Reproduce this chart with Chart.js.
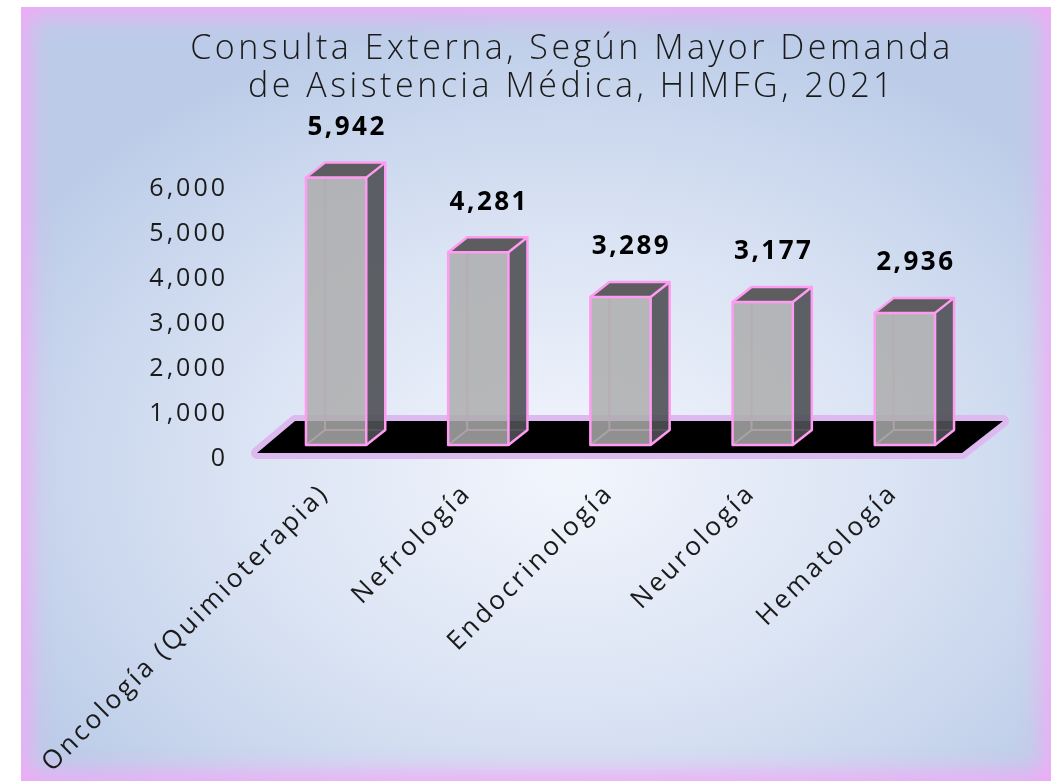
<!DOCTYPE html>
<html lang="es">
<head>
  <meta charset="UTF-8" />
  <title>Consulta Externa HIMFG 2021</title>
  <script src="https://cdn.jsdelivr.net/npm/chart.js"></script>
  <style>
    html, body {
      margin: 0;
      padding: 0;
      background: #ffffff;
      overflow: hidden;
    }
    .panel {
      position: absolute;
      left: 21px;
      top: 7px;
      width: 1030px;
      height: 774px;
      background: radial-gradient(ellipse 62% 60% at 53% 60%, #f2f5fc 0%, #dbe4f4 50%, #bccce8 100%);
      box-shadow: inset 0 0 24px 7px #f4a8f8;
    }
    canvas { display: block; }
  </style>
</head>
<body>

  <div class="panel">
    <canvas id="chart" width="1030" height="774"></canvas>
  </div>

  <script>
    const titleLines = ['Consulta Externa, Según Mayor Demanda', 'de Asistencia Médica, HIMFG, 2021'];
    const categories = ['Oncología (Quimioterapia)', 'Nefrología', 'Endocrinología', 'Neurología', 'Hematología'];
    const consultas = [5942, 4281, 3289, 3177, 2936];
    const yTicks = [0, 1000, 2000, 3000, 4000, 5000, 6000];

    const FONT = "'Open Sans', sans-serif";
    const DEPTH_X = 19, DEPTH_Y = -15;
    const PINK = '#ff9cf2';

    // letter spacing for all the canvas text (the original font is wide)
    const spacing = {
      id: 'spacing',
      beforeLayout(chart) { chart.ctx.letterSpacing = '3px'; },
      beforeDraw(chart) { chart.ctx.letterSpacing = '3px'; }
    };

    const title = {
      id: 'customTitle',
      afterDraw(chart) {
        const ctx = chart.ctx;
        ctx.save();
        ctx.letterSpacing = '3.5px';
        ctx.font = `300 34px ${FONT}`;
        ctx.fillStyle = '#1a1a1a';
        ctx.textAlign = 'center';
        ctx.textBaseline = 'middle';
        titleLines.forEach((t, i) => ctx.fillText(t, 551, 42 + i * 38));
        ctx.restore();
      }
    };

    // black floor under the bars
    const floor = {
      id: 'floor',
      beforeDatasetsDraw(chart) {
        const { ctx, chartArea: a } = chart;
        const b = a.bottom;
        ctx.save();
        ctx.beginPath();
        ctx.moveTo(a.left - 8, b + 8);
        ctx.lineTo(a.right - 14, b + 8);
        ctx.lineTo(a.right + 27, b - 24);
        ctx.lineTo(a.left + 30, b - 24);
        ctx.closePath();
        ctx.lineJoin = 'round';
        ctx.lineWidth = 12;
        ctx.strokeStyle = '#dcb9ee';
        ctx.stroke();
        ctx.fillStyle = '#000';
        ctx.fill();
        ctx.restore();
      }
    };

    function poly(ctx, pts) {
      ctx.beginPath();
      ctx.moveTo(pts[0][0], pts[0][1]);
      for (let i = 1; i < pts.length; i++) ctx.lineTo(pts[i][0], pts[i][1]);
      ctx.closePath();
    }

    // glass-like 3d boxes + value labels
    const boxes = {
      id: 'boxes',
      afterDatasetsDraw(chart) {
        const ctx = chart.ctx;
        const meta = chart.getDatasetMeta(0);
        ctx.save();
        meta.data.forEach((el, i) => {
          const w = el.width;
          const x0 = el.x - w / 2, x1 = el.x + w / 2;
          const yt = el.y, yb = el.base;
          const dx = DEPTH_X, dy = DEPTH_Y;

          // hidden edges seen through the front
          ctx.strokeStyle = 'rgba(235,160,225,0.7)';
          ctx.lineWidth = 2;
          ctx.beginPath();
          ctx.moveTo(x0 + dx, yt + dy); ctx.lineTo(x0 + dx, yb + dy);
          ctx.lineTo(x1 + dx, yb + dy);
          ctx.moveTo(x0 + dx, yb + dy); ctx.lineTo(x0, yb);
          ctx.stroke();

          // side
          poly(ctx, [[x1, yt], [x1 + dx, yt + dy], [x1 + dx, yb + dy], [x1, yb]]);
          ctx.fillStyle = 'rgba(78,80,84,0.9)';
          ctx.fill();
          // top
          poly(ctx, [[x0, yt], [x0 + dx, yt + dy], [x1 + dx, yt + dy], [x1, yt]]);
          ctx.fillStyle = '#5d5d5f';
          ctx.fill();
          // front
          ctx.fillStyle = 'rgba(172,172,172,0.84)';
          ctx.fillRect(x0, yt, w, yb - yt);

          // outlines
          ctx.strokeStyle = PINK;
          ctx.lineWidth = 2.5;
          ctx.lineJoin = 'round';
          ctx.strokeRect(x0, yt, w, yb - yt);
          ctx.beginPath();
          ctx.moveTo(x0, yt); ctx.lineTo(x0 + dx, yt + dy);
          ctx.lineTo(x1 + dx, yt + dy); ctx.lineTo(x1, yt);
          ctx.moveTo(x1 + dx, yt + dy); ctx.lineTo(x1 + dx, yb + dy);
          ctx.lineTo(x1, yb);
          ctx.stroke();

          // value
          ctx.letterSpacing = '2.5px';
          ctx.font = `bold 26px ${FONT}`;
          ctx.fillStyle = '#000';
          ctx.textAlign = 'center';
          ctx.textBaseline = 'middle';
          ctx.fillText(consultas[i].toLocaleString('en-US'), el.x + 11, yt - 50);
        });
        ctx.restore();
      }
    };

    new Chart(document.getElementById('chart'), {
      type: 'bar',
      data: {
        labels: categories,
        datasets: [{
          data: consultas,
          backgroundColor: 'rgba(0,0,0,0)',
          borderWidth: 0,
          categoryPercentage: 0.8,
          barPercentage: 0.53
        }]
      },
      options: {
        responsive: false,
        animation: false,
        layout: { padding: { top: 168, right: 75, left: 0, bottom: 0 } },
        plugins: {
          legend: { display: false },
          tooltip: { enabled: false }
        },
        scales: {
          x: {
            grid: { display: false, drawTicks: false },
            border: { display: false },
            ticks: {
              autoSkip: false,
              minRotation: 45,
              maxRotation: 45,
              padding: 33,
              labelOffset: -11,
              color: '#1a1a1a',
              font: { family: FONT, size: 26 }
            },
            afterFit(s) { s.height = 336; s.paddingLeft = 0; s.paddingRight = 0; }
          },
          y: {
            min: yTicks[0],
            max: yTicks[yTicks.length - 1],
            grid: { display: false, drawTicks: false },
            border: { display: false },
            afterBuildTicks(s) { s.ticks = yTicks.map(v => ({ value: v })); },
            ticks: {
              padding: 37,
              labelOffset: 14,
              color: '#1a1a1a',
              font: { family: FONT, size: 25 },
              callback: v => v.toLocaleString('en-US')
            },
            afterFit(s) { s.width = 244; }
          }
        }
      },
      plugins: [spacing, floor, boxes, title]
    });
  </script>

</body>
</html>
